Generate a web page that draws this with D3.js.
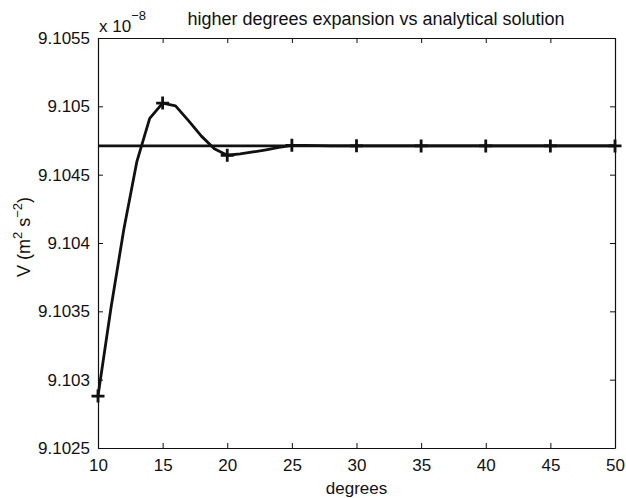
<!DOCTYPE html>
<html>
<head>
<meta charset="utf-8">
<script src="https://cdn.jsdelivr.net/npm/d3@7"></script>
<style>
  body { margin: 0; background: #fff; }
  text { font-family: "Liberation Sans", Arial, sans-serif; fill: #111; }
</style>
</head>
<body>
<svg id="chart" width="626" height="498"></svg>
<script>
// expansion values (x 1e-8), one per degree
const degrees = [10, 11, 12, 13, 14, 15, 16, 17, 18, 19, 20, 21, 22, 23, 24, 25,
  26, 27, 28, 29, 30, 31, 32, 33, 34, 35, 36, 37, 38, 39, 40,
  41, 42, 43, 44, 45, 46, 47, 48, 49, 50];
const expansion = [9.10288, 9.103523, 9.104101, 9.104593, 9.104912, 9.105024, 9.105003, 9.104895,
  9.104782, 9.104690, 9.104642, 9.104652, 9.104666, 9.104682, 9.104700, 9.104715,
  9.104714, 9.104712, 9.104711, 9.104711, 9.104711, 9.10471, 9.10471, 9.10471, 9.10471, 9.10471,
  9.10471, 9.10471, 9.10471, 9.10471, 9.10471, 9.10471, 9.10471, 9.10471, 9.10471, 9.10471,
  9.10471, 9.10471, 9.10471, 9.10471, 9.10471];
const markerDegrees = [10, 15, 20, 25, 30, 35, 40, 45, 50];
const analytical = 9.10471;
const xTicks = [10, 15, 20, 25, 30, 35, 40, 45, 50];
const yTicks = [9.1025, 9.103, 9.1035, 9.104, 9.1045, 9.105, 9.1055];

const margin = { top: 38, right: 11, bottom: 50, left: 98 };
const width = 626 - margin.left - margin.right;
const height = 498 - margin.top - margin.bottom;

const svg = d3.select("#chart");
const chart = svg.append("g").attr("transform", `translate(${margin.left},${margin.top})`);

const x = d3.scaleLinear().domain([10, 50]).range([0, width]);
const y = d3.scaleLinear().domain([9.1025, 9.1055]).range([height, 0]);

// axes box, ticks pointing in
const tickLen = 5;
chart.append("g").attr("transform", `translate(0,${height})`)
  .call(d3.axisBottom(x).tickValues(xTicks).tickSizeInner(-tickLen).tickSizeOuter(0).tickPadding(11).tickFormat(d3.format("d")));
chart.append("g")
  .call(d3.axisTop(x).tickValues(xTicks).tickSizeInner(-tickLen).tickSizeOuter(0).tickFormat(""));
chart.append("g")
  .call(d3.axisLeft(y).tickValues(yTicks).tickSizeInner(-tickLen).tickSizeOuter(0).tickPadding(8).tickFormat(d => d3.format(".4~f")(d)));
chart.append("g").attr("transform", `translate(${width},0)`)
  .call(d3.axisRight(y).tickValues(yTicks).tickSizeInner(-tickLen).tickSizeOuter(0).tickFormat(""));

chart.selectAll(".domain").attr("stroke", "#111").attr("stroke-width", 1.2);
chart.selectAll(".tick line").attr("stroke", "#111");
chart.selectAll(".tick text").attr("font-size", 17).attr("fill", "#111")
  .attr("font-family", "Liberation Sans, Arial, sans-serif");

// analytical solution
chart.append("line")
  .attr("x1", x(10)).attr("x2", x(50))
  .attr("y1", y(analytical)).attr("y2", y(analytical))
  .attr("stroke", "#111").attr("stroke-width", 2.8);

// expansion curve
const pts = degrees.map((d, i) => ({ d, v: expansion[i] }));
const line = d3.line().x(p => x(p.d)).y(p => y(p.v));
chart.append("path").datum(pts)
  .attr("fill", "none").attr("stroke", "#111").attr("stroke-width", 2.8)
  .attr("stroke-linejoin", "round")
  .attr("d", line);

// plus markers
const m = 6.5;
chart.selectAll(".mk").data(pts.filter(p => markerDegrees.includes(p.d)))
  .enter().append("path")
  .attr("class", "mk")
  .attr("d", p => `M${x(p.d) - m},${y(p.v)}h${2 * m}M${x(p.d)},${y(p.v) - m}v${2 * m}`)
  .attr("stroke", "#111").attr("stroke-width", 2.8);

// labels
svg.append("text").attr("x", 376).attr("y", 25).attr("text-anchor", "middle")
  .attr("font-size", 18).text("higher degrees expansion vs analytical solution");

const expo = svg.append("text").attr("x", 99).attr("y", 32).attr("font-size", 17);
expo.append("tspan").text("x 10");
expo.append("tspan").attr("dy", -12).attr("font-size", 13).text("\u22128");

svg.append("text").attr("x", margin.left + width / 2).attr("y", 494)
  .attr("text-anchor", "middle").attr("font-size", 17).text("degrees");

const yl = svg.append("text")
  .attr("transform", `translate(30,${margin.top + height / 2 - 6}) rotate(-90)`)
  .attr("text-anchor", "middle").attr("font-size", 18);
yl.append("tspan").text("V (m");
yl.append("tspan").attr("dy", -8).attr("font-size", 13).text("2");
yl.append("tspan").attr("dy", 8).text(" s");
yl.append("tspan").attr("dy", -8).attr("font-size", 13).text("\u22122");
yl.append("tspan").attr("dy", 8).text(")");
</script>
</body>
</html>
